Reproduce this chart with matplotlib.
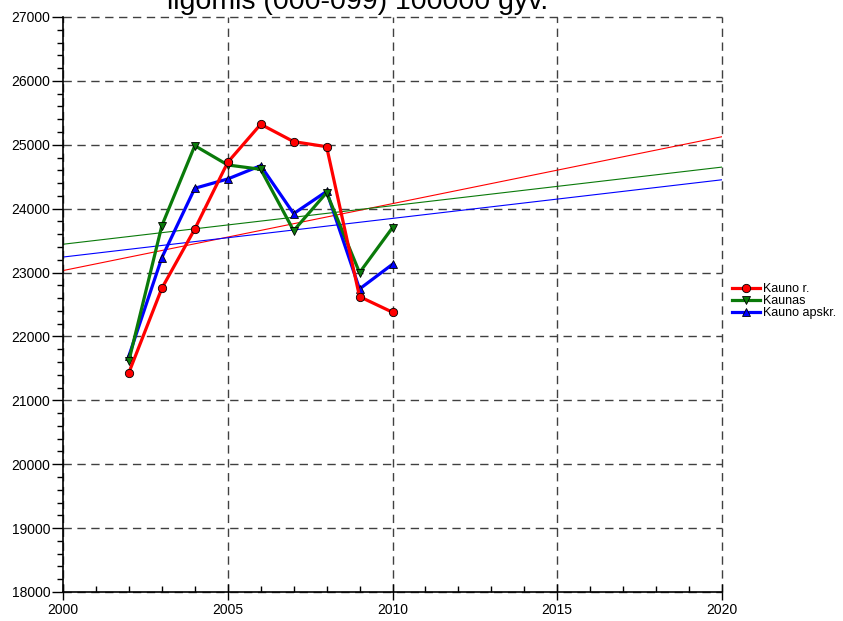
import numpy as np
import matplotlib
matplotlib.use("Agg")
import matplotlib.pyplot as plt
from matplotlib.ticker import MultipleLocator

plt.rcParams["font.family"] = ["Liberation Sans", "DejaVu Sans"]

metai = [2002, 2003, 2004, 2005, 2006, 2007, 2008, 2009, 2010]
kauno_r = [21434, 22754, 23682, 24726, 25321, 25049, 24970, 22623, 22379]
kaunas = [21621, 23734, 24986, 24684, 24616, 23656, 24250, 22999, 23703]
kauno_apskr = [21695, 23233, 24319, 24465, 24673, 23922, 24270, 22743, 23130]

serijos = [
    ("Kauno r.", kauno_r, "#ff0000", "o"),
    ("Kaunas", kaunas, "#0a7a0a", "v"),
    ("Kauno apskr.", kauno_apskr, "#0000ff", "^"),
]

fig = plt.figure(figsize=(8.43, 6.21), dpi=100)
ax = fig.add_axes([63 / 843, 1 - 592 / 621, 659 / 843, 575 / 621])

# trendo linijos per visą ašį (tiesinė regresija)
x_tr = np.array([2000, 2020])
for vardas, y, spalva, zym in serijos:
    k = np.polyfit(metai, y, 1)
    ax.plot(x_tr, np.polyval(k, x_tr), color=spalva, lw=0.8, zorder=2)

rankenos = []
for zorder, (vardas, y, spalva, zym) in zip([5, 4, 3], serijos):
    (h,) = ax.plot(metai, y, color=spalva, lw=2.3, marker=zym, ms=6,
                   mfc=spalva, mec="black", mew=0.6, label=vardas, zorder=zorder)
    rankenos.append(h)

ax.set_xlim(2000, 2020)
ax.set_ylim(18000, 27000)
ax.xaxis.set_major_locator(MultipleLocator(5))
ax.xaxis.set_minor_locator(MultipleLocator(1))
ax.yaxis.set_major_locator(MultipleLocator(1000))
ax.yaxis.set_minor_locator(MultipleLocator(200))
ax.tick_params(axis="x", which="major", direction="inout", length=12, width=1,
               labelsize=10, pad=2)
ax.tick_params(axis="x", which="minor", direction="in", length=4, width=1)
ax.tick_params(axis="y", which="major", direction="out", length=8, width=1,
               labelsize=10, pad=1)
ax.tick_params(axis="y", which="minor", direction="out", length=4, width=1)

ax.grid(True, which="major", color="#404040", ls=(0, (6, 4)), lw=1)
ax.set_axisbelow(True)
for linija in ax.get_xgridlines() + ax.get_ygridlines():
    linija.set_clip_on(False)
for s in ["top", "right"]:
    ax.spines[s].set_visible(False)
for s in ["left", "bottom"]:
    ax.spines[s].set_linewidth(1.2)

ax.legend(rankenos, [s[0] for s in serijos],
          loc="upper left", bbox_to_anchor=(1.0, 0.555), frameon=False,
          fontsize=9, handlelength=2.2, handletextpad=0.3, labelspacing=0.0,
          borderaxespad=0.4)

fig.text(358 / 843, 1 - 9 / 621, "ligomis (000-099) 100000 gyv.",
         ha="center", va="baseline", fontsize=20.5)

fig.savefig("out.png", dpi=100)
